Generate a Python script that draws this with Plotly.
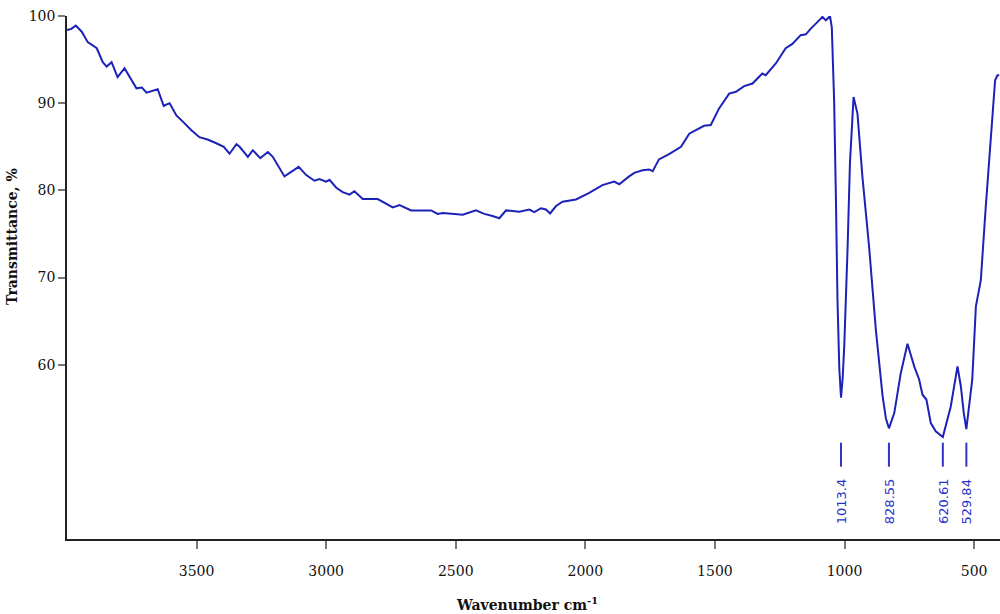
import plotly.graph_objects as go

wavenumber = [4000, 3985, 3966, 3943, 3920, 3900, 3885, 3862, 3847, 3828, 3805, 3778, 3755,
              3732, 3711, 3693, 3650, 3627, 3604, 3578, 3550, 3520, 3489, 3455, 3424, 3395,
              3373, 3346, 3334, 3302, 3283, 3254, 3225, 3206, 3161, 3135, 3106, 3077, 3045,
              3026, 3000, 2987, 2961, 2936, 2910, 2891, 2859, 2801, 2769, 2743, 2717, 2672,
              2595, 2570, 2550, 2473, 2422, 2390, 2358, 2332, 2306, 2255, 2216, 2197, 2171,
              2152, 2136, 2113, 2088, 2036, 1985, 1934, 1889, 1869, 1831, 1811, 1779, 1754,
              1740, 1716, 1677, 1631, 1599, 1574, 1542, 1516, 1484, 1445, 1419, 1387, 1355,
              1317, 1304, 1265, 1227, 1201, 1169, 1149, 1130, 1098, 1085, 1072, 1056, 1049,
              1040, 1033, 1027, 1020, 1013.4, 1007, 1001, 988, 979, 965, 950, 931, 905, 879,
              853, 840, 828.55, 808, 783, 757, 731, 712, 699, 684, 667, 648, 620.61, 590, 564,
              551, 540, 529.84, 507, 493, 474, 455, 436, 419, 410, 403]
transmittance = [98.4, 98.5, 98.9, 98.2, 97.0, 96.6, 96.3, 94.7, 94.2, 94.7, 93.0, 94.0, 92.8,
                 91.7, 91.8, 91.2, 91.6, 89.7, 90.0, 88.6, 87.8, 86.9, 86.1, 85.8, 85.4, 85.0,
                 84.2, 85.3, 85.0, 83.85, 84.6, 83.7, 84.4, 83.85, 81.6, 82.1, 82.7, 81.75, 81.1,
                 81.3, 81.0, 81.2, 80.3, 79.8, 79.5, 79.9, 79.0, 79.0, 78.5, 78.05, 78.3, 77.7,
                 77.7, 77.3, 77.4, 77.2, 77.7, 77.3, 77.05, 76.8, 77.7, 77.55, 77.8, 77.5, 77.95,
                 77.8, 77.35, 78.2, 78.7, 78.95, 79.7, 80.6, 81.0, 80.7, 81.6, 82.0, 82.3, 82.4,
                 82.2, 83.55, 84.15, 85.0, 86.5, 86.9, 87.4, 87.5, 89.4, 91.1, 91.3, 91.95, 92.25,
                 93.4, 93.2, 94.55, 96.3, 96.8, 97.8, 97.9, 98.55, 99.5, 99.9, 99.5, 100.0, 98.7,
                 90.3, 78.9, 67.4, 59.5, 56.2, 58.5, 62.1, 73.5, 83.1, 90.7, 88.8, 81.6, 73.5, 64.0,
                 56.4, 53.8, 52.7, 54.45, 59.0, 62.4, 59.8, 58.3, 56.55, 56.0, 53.3, 52.35, 51.7,
                 55.2, 59.8, 57.5, 54.5, 52.6, 58.3, 66.7, 69.7, 78.1, 86.1, 92.6, 93.2, 93.2]

peak_positions = [1013.4, 828.55, 620.61, 529.84]
peak_labels = ["1013.4", "828.55", "620.61", "529.84"]

x_ticks = [3500, 3000, 2500, 2000, 1500, 1000, 500]
y_ticks = [60, 70, 80, 90, 100]

W, H = 1000, 614
ML, MR, MT, MB = 67, 0, 16, 75
PW, PH = W - ML - MR, H - MT - MB


def px_to_paper_x(px):
    return (px - ML) / PW


def py_to_paper_y(py):
    return (H - MB - py) / PH


fig = go.Figure()
fig.add_trace(go.Scatter(x=wavenumber, y=transmittance, mode="lines",
                         line=dict(color="#1c22b8", width=2), showlegend=False,
                         cliponaxis=False, hoverinfo="skip"))

for pos, lab in zip(peak_positions, peak_labels):
    fig.add_shape(type="line", xref="x", yref="y", x0=pos, x1=pos, y0=48.3, y1=51.05,
                  line=dict(color="#2a34c8", width=2))
    fig.add_annotation(x=pos, y=47.2, xref="x", yref="y", text=lab, textangle=-90,
                       showarrow=False, yanchor="top", xanchor="center",
                       font=dict(family="DejaVu Sans", size=13, color="#2a34c8"))

fig.add_annotation(x=px_to_paper_x(12), y=py_to_paper_y(237), xref="paper", yref="paper",
                   text="<b>Transmittance, %</b>", showarrow=False, textangle=-90,
                   xanchor="center", yanchor="middle",
                   font=dict(family="DejaVu Serif", size=14, color="#111"))
fig.add_annotation(x=px_to_paper_x(527), y=py_to_paper_y(604), xref="paper", yref="paper",
                   text="<b>Wavenumber cm<sup>-1</sup></b>", showarrow=False,
                   xanchor="center", yanchor="middle",
                   font=dict(family="DejaVu Serif", size=14, color="#111"))

fig.update_layout(
    width=W, height=H,
    margin=dict(l=ML, r=MR, t=MT, b=MB),
    paper_bgcolor="white", plot_bgcolor="white",
    font=dict(family="DejaVu Serif", size=14, color="#111"),
)

fig.update_xaxes(range=[4000, 400], tickvals=x_ticks, ticktext=[str(v) for v in x_ticks],
                 showline=True, linecolor="#222", linewidth=1.5, showgrid=False, zeroline=False,
                 ticks="outside", ticklen=8, tickwidth=2, tickcolor="#777",
                 ticklabelstandoff=10,
                 tickfont=dict(family="DejaVu Serif", size=14, color="#111"))
fig.update_yaxes(range=[40, 100], tickvals=y_ticks, ticktext=[str(v) for v in y_ticks],
                 showline=True, linecolor="#222", linewidth=1.5, showgrid=False, zeroline=False,
                 ticks="outside", ticklen=7, tickwidth=2, tickcolor="#777",
                 tickfont=dict(family="DejaVu Serif", size=14, color="#111"))

fig.write_html("out.html",
               config={"displayModeBar": False},
               post_script="document.body.style.margin='0';document.body.style.overflow='hidden';")
